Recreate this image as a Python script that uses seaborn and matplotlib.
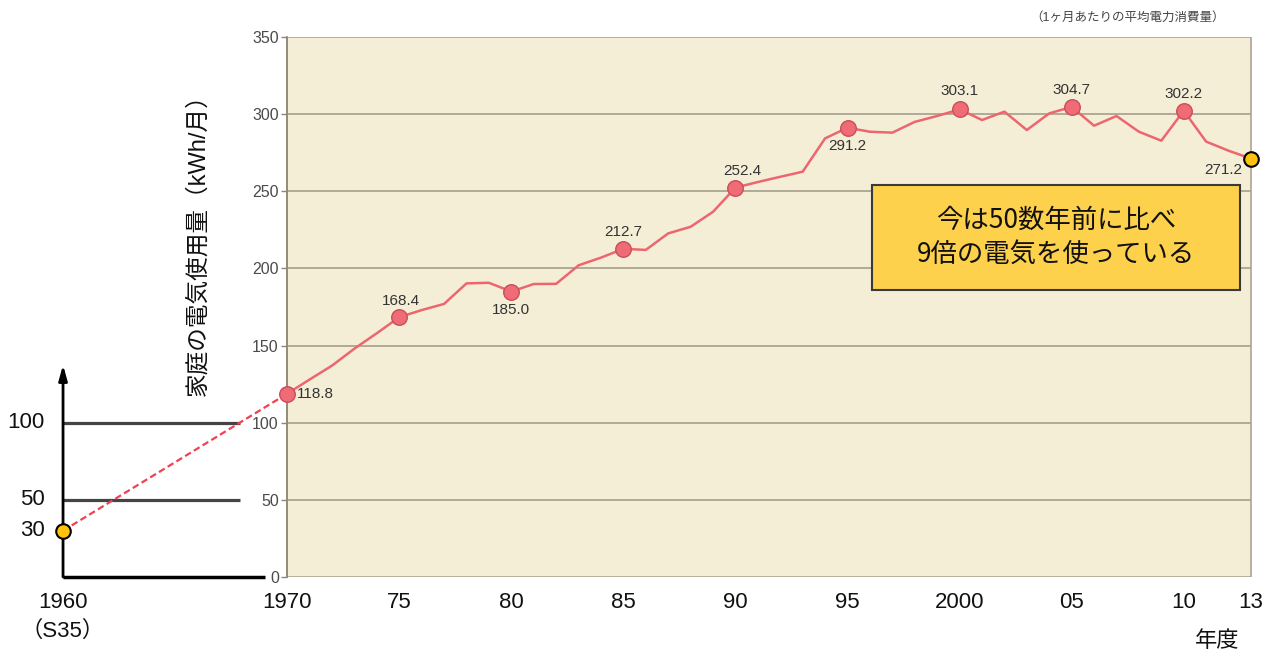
import pandas as pd
import seaborn as sns
import matplotlib.pyplot as plt
from matplotlib.patches import Rectangle

# household electricity use per month (kWh)
years = list(range(1970, 2014))
usage = [118.8, 128, 137, 148, 158, 168.4, 173, 177, 190.3, 190.7,
         185.0, 189.9, 190, 202, 207, 212.7, 212, 222.7, 227, 236.7,
         252.4, 256, 259.4, 262.7, 284.3, 291.2, 288.6, 288, 295, 298.8,
         303.1, 296.2, 301.6, 289.7, 300.5, 304.7, 292.5, 298.8, 288.6, 282.8,
         302.2, 282.2, 276.3, 271.2]
start_year = 1960
start_usage = 30
labeled_years = [1970, 1975, 1980, 1985, 1990, 1995, 2000, 2005, 2010]
yticks = [0, 50, 100, 150, 200, 250, 300, 350]
left_levels = [100, 50]
left_labels = [100, 50, 30]
xtick_pos = [1960, 1970, 1975, 1980, 1985, 1990, 1995, 2000, 2005, 2010, 2013]
xtick_labels = ['1960\n（S35）', '1970', '75', '80', '85', '90', '95', '2000', '05', '10', '13']

# label offsets in points (dx, dy, ha)
label_pos = {1970: (7, 0, 'left'), 1975: (1, 12, 'center'), 1980: (0, -13, 'center'),
             1985: (0, 12, 'center'), 1990: (5, 12, 'center'), 1995: (0, -13, 'center'),
             2000: (0, 13, 'center'), 2005: (0, 12, 'center'), 2010: (0, 12, 'center'),
             2013: (-20, -8, 'center')}

sns.set_style('white')
plt.rcParams['font.family'] = ['Liberation Sans', 'Noto Sans CJK JP', 'DejaVu Sans']

LINE = '#ec6670'
PINK = '#ef6b76'
BEIGE = '#f5eed7'
GRID = '#aaa491'
YELLOW = '#ffc20e'

fig = plt.figure(figsize=(12.78, 6.55), dpi=100)
ax = fig.add_axes([20 / 1278, 1 - 577 / 655, 1248 / 1278, 540 / 655])
ax.set_xlim(1958.08, 2013.76)
ax.set_ylim(0, 350)

df = pd.DataFrame({'year': years, 'usage': usage})
hl = df[df['year'].isin(labeled_years)]

# background panel and grid for the 1970-2013 part
ax.axvspan(years[0], years[-1], facecolor=BEIGE, edgecolor=GRID, lw=1.2, zorder=0)
ax.hlines(yticks[1:-1], years[0], years[-1], color=GRID, lw=1.3, zorder=1)

sns.lineplot(data=df, x='year', y='usage', color=LINE, lw=1.8, ax=ax, zorder=3)
sns.lineplot(x=[start_year, years[0]], y=[start_usage, usage[0]], color='#f04152',
             lw=1.6, ax=ax, zorder=3, linestyle=(0, (3, 1.6)))
sns.scatterplot(data=hl, x='year', y='usage', s=125, color=PINK, edgecolor='#c94e5a',
                linewidth=1, ax=ax, zorder=4)
sns.scatterplot(x=[start_year, years[-1]], y=[start_usage, usage[-1]], s=110, color=YELLOW,
                edgecolor='black', linewidth=1.5, ax=ax, zorder=5, clip_on=False)

for yr, val in zip(years, usage):
    if yr in label_pos:
        dx, dy, ha = label_pos[yr]
        ax.annotate(f'{val:.1f}', (yr, val), xytext=(dx, dy), textcoords='offset points',
                    ha=ha, va='center', fontsize=11, color='#333333', zorder=6)

# left mini axis for 1960
ax.annotate('', xy=(start_year, 137.5), xytext=(start_year, 0),
            arrowprops=dict(arrowstyle='-|>,head_length=0.9,head_width=0.25', lw=2,
                            color='black', shrinkA=0, shrinkB=0))
ax.hlines(left_levels, start_year, 1967.9, color='#444444', lw=2.3, zorder=2)
ax.plot([start_year, 1969], [0, 0], color='black', lw=2.5, solid_capstyle='butt', clip_on=False)
for v in left_labels:
    ax.annotate(str(v), (start_year, v), xytext=(-13, 0), textcoords='offset points',
                ha='right', va='center', fontsize=16, color='#111111')

# axes styling
for side in ['top', 'right', 'bottom']:
    ax.spines[side].set_visible(False)
ax.spines['left'].set_position(('data', years[0]))
ax.spines['left'].set_bounds(0, 350)
ax.spines['left'].set_color('#8c8672')
ax.spines['left'].set_linewidth(1.2)
ax.set_yticks(yticks)
ax.tick_params(axis='y', direction='out', length=4, width=1, color='#8c8672', pad=2,
               labelsize=11.5, labelcolor='#4a4a4a', left=True)
ax.set_xticks(xtick_pos)
ax.set_xticklabels(xtick_labels)
ax.tick_params(axis='x', length=0, pad=11, labelsize=16, labelcolor='#111111')
ax.get_xticklabels()[0].set_linespacing(1.45)

ax.set_xlabel('')
ax.set_ylabel('家庭の電気使用量（kWh/月）', fontsize=17, color='#111111')
ax.yaxis.set_label_coords(0.152, 0.625)

# callout box
ax.add_patch(Rectangle((1996.1, 186), 16.4, 68, facecolor='#fdd14b', edgecolor='#3a3a3a',
                       lw=1.5, zorder=7))
ax.text(2004.3, 220, '今は50数年前に比べ\n9倍の電気を使っている', ha='center', va='center',
        fontsize=19, linespacing=1.35, color='#111111', zorder=8,
        family=['Noto Sans CJK JP', 'DejaVu Sans'])

fig.text(0.952, 0.021, '年度', ha='center', va='center', fontsize=16, color='#111111')
fig.text(0.882, 0.973, '（1ヶ月あたりの平均電力消費量）', ha='center', va='center',
         fontsize=9, color='#444444')

fig.savefig('out.png', dpi=100)
